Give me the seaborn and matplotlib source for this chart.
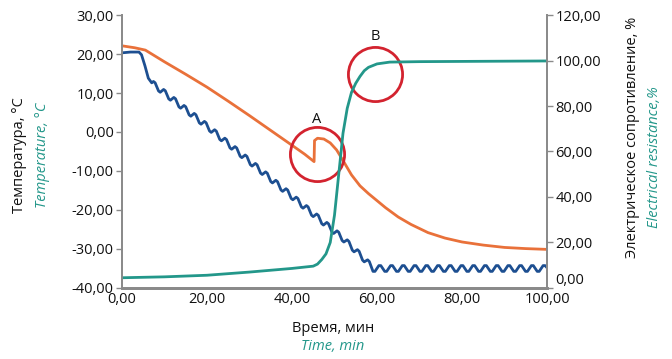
"""
Temperature and electrical resistance vs time (twin axis line chart)
"""

import matplotlib
matplotlib.use('Agg')
import matplotlib.pyplot as plt
from matplotlib.ticker import FuncFormatter, MultipleLocator
import seaborn as sns

sns.set_style('white')
plt.rcParams['font.family'] = ['Open Sans', 'DejaVu Sans']

# --- data ---
# dark blue temperature curve (chamber), °C
blue_time = [
    0, 2, 4, 4.6, 5.4, 6.2,
    7.0, 7.4, 7.8, 8.2, 8.6, 9.0, 9.4, 9.8, 10.2, 10.6, 11.0, 11.4,
    11.8, 12.2, 12.6, 13.0, 13.4, 13.8, 14.2, 14.6, 15.0, 15.4, 15.8, 16.2,
    16.6, 17.0, 17.4, 17.8, 18.2, 18.6, 19.0, 19.4, 19.8, 20.2, 20.6, 21.0,
    21.4, 21.8, 22.2, 22.6, 23.0, 23.4, 23.8, 24.2, 24.6, 25.0, 25.4, 25.8,
    26.2, 26.6, 27.0, 27.4, 27.8, 28.2, 28.6, 29.0, 29.4, 29.8, 30.2, 30.6,
    31.0, 31.4, 31.8, 32.2, 32.6, 33.0, 33.4, 33.8, 34.2, 34.6, 35.0, 35.4,
    35.8, 36.2, 36.6, 37.0, 37.4, 37.8, 38.2, 38.6, 39.0, 39.4, 39.8, 40.2,
    40.6, 41.0, 41.4, 41.8, 42.2, 42.6, 43.0, 43.4, 43.8, 44.2, 44.6, 45.0,
    45.4, 45.8, 46.2, 46.6, 47.0, 47.4, 47.8, 48.2, 48.6, 49.0, 49.4, 49.8,
    50.2, 50.6, 51.0, 51.4, 51.8, 52.2, 52.6, 53.0, 53.4, 53.8, 54.2, 54.6,
    55.0, 55.4, 55.8, 56.2, 56.6, 57.0, 57.4, 57.8, 58.2, 58.6,
    59.06, 59.52, 59.98, 60.44, 60.90, 61.36, 61.82, 62.28, 62.74, 63.20,
    63.66, 64.12, 64.58, 65.04, 65.50, 65.96, 66.42, 66.88, 67.34, 67.80,
    68.26, 68.72, 69.18, 69.64, 70.10, 70.56, 71.02, 71.48, 71.94, 72.40,
    72.86, 73.32, 73.78, 74.24, 74.70, 75.16, 75.62, 76.08, 76.54, 77.00,
    77.46, 77.92, 78.38, 78.84, 79.30, 79.76, 80.22, 80.68, 81.14, 81.60,
    82.06, 82.52, 82.98, 83.44, 83.90, 84.36, 84.82, 85.28, 85.74, 86.20,
    86.66, 87.12, 87.58, 88.04, 88.50, 88.96, 89.42, 89.88, 90.34, 90.80,
    91.26, 91.72, 92.18, 92.64, 93.10, 93.56, 94.02, 94.48, 94.94, 95.40,
    95.86, 96.32, 96.78, 97.24, 97.70, 98.16, 98.62, 99.08, 99.54, 100.00,
]
blue_temp = [
    20.3, 20.5, 20.5, 19.8, 17.0, 13.8,
    12.60, 12.96, 12.62, 11.58, 10.53, 10.19, 10.55, 10.91, 10.57, 9.53, 8.49, 8.15,
    8.50, 8.86, 8.52, 7.48, 6.44, 6.10, 6.46, 6.81, 6.47, 5.43, 4.39, 4.05,
    4.41, 4.77, 4.42, 3.38, 2.34, 2.00, 2.36, 2.72, 2.37, 1.32, 0.26, -0.10,
    0.24, 0.58, 0.22, -0.84, -1.90, -2.26, -1.92, -1.58, -1.94, -3.00, -4.06, -4.42,
    -4.08, -3.74, -4.10, -5.16, -6.22, -6.58, -6.24, -5.90, -6.26, -7.32, -8.38, -8.74,
    -8.40, -8.06, -8.42, -9.48, -10.54, -10.90, -10.56, -10.22, -10.58, -11.64, -12.70, -13.06,
    -12.72, -12.38, -12.74, -13.80, -14.86, -15.22, -14.88, -14.54, -14.90, -15.96, -17.02, -17.38,
    -17.04, -16.70, -17.06, -18.12, -19.18, -19.54, -19.20, -18.86, -19.22, -20.28, -21.34, -21.70,
    -21.36, -21.02, -21.38, -22.44, -23.50, -23.86, -23.52, -23.18, -23.54, -24.60, -25.66, -26.02,
    -25.68, -25.34, -25.70, -26.76, -27.82, -28.21, -27.93, -27.65, -28.07, -29.19, -30.31, -30.73,
    -30.45, -30.17, -30.59, -31.72, -32.86, -33.30, -33.04, -32.78, -33.22, -34.36,
    -35.74, -35.74, -35.00, -34.26, -34.26, -35.00, -35.74, -35.74, -35.00, -34.26,
    -34.26, -35.00, -35.74, -35.74, -35.00, -34.26, -34.26, -35.00, -35.74, -35.74,
    -35.00, -34.26, -34.26, -35.00, -35.74, -35.74, -35.00, -34.26, -34.26, -35.00,
    -35.74, -35.74, -35.00, -34.26, -34.26, -35.00, -35.74, -35.74, -35.00, -34.26,
    -34.26, -35.00, -35.74, -35.74, -35.00, -34.26, -34.26, -35.00, -35.74, -35.74,
    -35.00, -34.26, -34.26, -35.00, -35.74, -35.74, -35.00, -34.26, -34.26, -35.00,
    -35.74, -35.74, -35.00, -34.26, -34.26, -35.00, -35.74, -35.74, -35.00, -34.26,
    -34.26, -35.00, -35.74, -35.74, -35.00, -34.26, -34.26, -35.00, -35.74, -35.74,
    -35.00, -34.26, -34.26, -35.00, -35.74, -35.74, -35.00, -34.26, -34.26, -34.80,
]

# orange temperature curve (sample), °C
orange_time = [0, 3, 5.5, 10, 15, 20, 25, 30, 35, 40, 43, 45.2, 45.3, 46, 47.5,
               49, 50.5, 52, 54, 56, 58, 60, 62, 65, 68, 72, 76, 80, 85, 90, 95, 100]
orange_temp = [22.1, 21.6, 21.0, 18.0, 14.8, 11.5, 7.9, 4.2, 0.4, -3.4, -5.7, -7.6, -2.2,
               -1.6, -1.8, -2.8, -4.6, -7.3, -11.0, -13.8, -15.8, -17.6, -19.4, -21.8,
               -23.7, -25.8, -27.2, -28.2, -29.0, -29.6, -29.9, -30.1]

# teal electrical resistance curve, %
green_time = [0, 10, 20, 30, 40, 45, 46, 47, 48, 49, 50, 51, 52, 53, 54, 55, 56,
              57, 58, 60, 63, 70, 80, 90, 100]
green_res = [4.5, 4.9, 5.6, 7.0, 8.6, 9.6, 10.5, 12.5, 15.0, 20.0, 32.0, 50.0, 68.0, 79.0,
             86.0, 90.0, 93.0, 95.5, 97.0, 98.5, 99.3, 99.5, 99.6, 99.7, 99.8]

# marked points (circle centres) and labels
mark_names = ['A', 'B']
mark_time = [45.9, 59.6]
mark_temp = [-5.6, 14.9]
label_temp = [3.1, 24.4]

BLUE = '#1d4f91'
ORANGE = '#e9713a'
TEAL = '#23978a'
RED = '#d3232f'
GRAY = '#8a8a8a'
FS = 10.5


def comma_fmt(v, pos):
    return f"{v:.2f}".replace('.', ',')


fig = plt.figure(figsize=(6.72, 3.59), dpi=100)
ax = fig.add_axes([0.1815, 0.1978, 0.6325, 0.7604])
ax2 = ax.twinx()

sns.lineplot(x=blue_time, y=blue_temp, ax=ax, color=BLUE, linewidth=2,
             sort=False, estimator=None)
sns.lineplot(x=orange_time, y=orange_temp, ax=ax, color=ORANGE, linewidth=2,
             sort=False, estimator=None)
sns.lineplot(x=green_time, y=green_res, ax=ax2, color=TEAL, linewidth=2,
             sort=False, estimator=None)

for ln in ax.lines + ax2.lines:
    ln.set_solid_joinstyle('round')

# red circles around the points of interest
ax.plot(mark_time, mark_temp, linestyle='none', marker='o', markersize=39,
        markerfacecolor='none', markeredgecolor=RED, markeredgewidth=2, zorder=5)
for name, x, y in zip(mark_names, mark_time, label_temp):
    ax.text(x, y, name, ha='center', va='center', fontsize=FS, color='#111111')

ax.set_xlim(0, 100)
ax.set_ylim(-40, 30)
ax2.set_ylim(0, 120)
ax.xaxis.set_major_locator(MultipleLocator(20))
ax.yaxis.set_major_locator(MultipleLocator(10))
ax2.yaxis.set_major_locator(MultipleLocator(20))
for a in (ax, ax2):
    a.xaxis.set_major_formatter(FuncFormatter(comma_fmt))
    a.yaxis.set_major_formatter(FuncFormatter(comma_fmt))
    a.set_xlabel('')
    a.set_ylabel('')
    a.spines['top'].set_visible(False)
    for s in ('left', 'right', 'bottom'):
        a.spines[s].set_color(GRAY)
        a.spines[s].set_linewidth(1.3)
    a.spines['bottom'].set_linewidth(2)

ax.tick_params(axis='y', which='major', length=4, width=1, color=GRAY,
               labelsize=FS, labelcolor='#111111', pad=2)
ax.tick_params(axis='x', which='major', length=0, labelsize=FS,
               labelcolor='#111111', pad=3)
ax2.tick_params(axis='y', which='major', length=4, width=1, color=GRAY,
                labelsize=FS, labelcolor='#111111', pad=2)

# axis titles (Russian in black, English in teal italics)
fig.text(20 / 672, 1 - 155 / 359, 'Температура, °C', rotation=90,
         ha='center', va='center', fontsize=FS, color='#111111')
fig.text(43 / 672, 1 - 155 / 359, 'Temperature, °C', rotation=90,
         ha='center', va='center', fontsize=FS, color=TEAL, style='italic')
fig.text(632 / 672, 1 - 137 / 359, 'Электрическое сопротивление, %', rotation=90,
         ha='center', va='center', fontsize=FS, color='#111111')
fig.text(654 / 672, 1 - 157 / 359, 'Electrical resistance,%', rotation=90,
         ha='center', va='center', fontsize=FS, color=TEAL, style='italic')
fig.text(333 / 672, 1 - 328 / 359, 'Время, мин', ha='center', va='center',
         fontsize=FS, color='#111111')
fig.text(333 / 672, 1 - 347 / 359, 'Time, min', ha='center', va='center',
         fontsize=FS, color=TEAL, style='italic')

# right "0,00" sits slightly above the axis line, as in the reference
fig.canvas.draw()
for tick in ax2.yaxis.get_major_ticks():
    if abs(tick.get_loc()) < 1e-9:
        tick.label2.set_verticalalignment('bottom')

fig.savefig('out.png', dpi=100)
